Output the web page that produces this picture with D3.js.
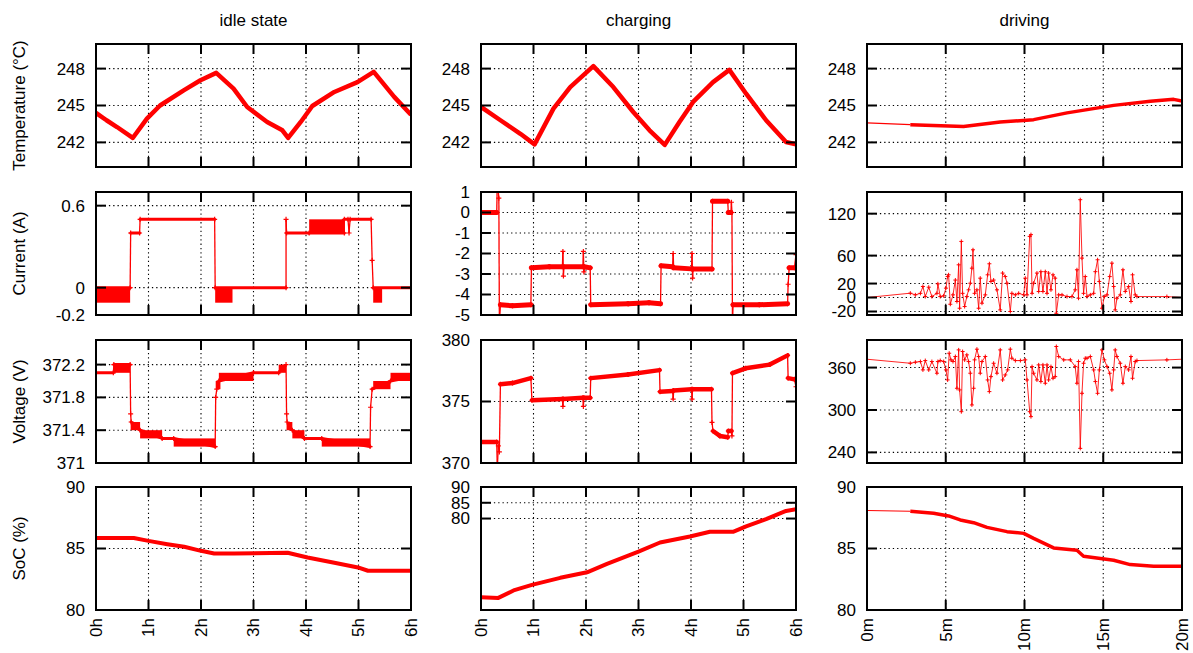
<!DOCTYPE html>
<html>
<head>
<meta charset="utf-8">
<script src="https://cdn.jsdelivr.net/npm/d3@7"></script>
<style>
  body { margin: 0; background: #fff; }
  text { font-family: "Liberation Sans", Arial, sans-serif; fill: #000; }
</style>
</head>
<body>
<svg id="chart" width="1193" height="653"></svg>
<script>
// titles and tick labels
const columnTitles = ["idle state", "charging", "driving"];
const rowTitles = ["Temperature (°C)", "Current (A)", "Voltage (V)", "SoC (%)"];
const hourTicks = [0, 1, 2, 3, 4, 5, 6];
const minuteTicks = [0, 5, 10, 15, 20];
const tempTicks = [242, 245, 248];
const idleCurrentTicks = [-0.2, 0, 0.6];
const chargeCurrentTicks = [-5, -4, -3, -2, -1, 0, 1];
const driveCurrentTicks = [-20, 0, 20, 60, 120];
const idleVoltageTicks = [371, 371.4, 371.8, 372.2];
const chargeVoltageTicks = [370, 375, 380];
const driveVoltageTicks = [240, 300, 360];
const socTicks = [80, 85, 90];

// series: [time, value]  (hours for idle/charging, minutes for driving)
const idleTemp = [[0,244.4],[0.2,243.8],[0.4,243.25],[0.7,242.36],[0.97,243.93],[1.22,245.0],[1.67,246.23],[1.99,247.05],[2.29,247.65],[2.62,246.37],[2.88,244.88],[3.26,243.66],[3.55,242.98],[3.66,242.36],[3.9,243.66],[4.12,244.96],[4.54,246.1],[4.98,246.9],[5.29,247.73],[5.68,245.7],[6,244.25]];
const chargeTemp = [[0,244.88],[0.37,243.8],[0.75,242.7],[1.02,241.84],[1.38,244.75],[1.7,246.5],[2.14,248.2],[2.52,246.5],[2.9,244.47],[3.21,242.98],[3.5,241.8],[3.78,243.66],[4.04,245.29],[4.42,246.9],[4.73,247.9],[5.05,245.96],[5.43,243.8],[5.81,242.03],[6,241.84]];
const driveTemp = [[0,243.58],[2.75,243.44],[5.18,243.33],[6.13,243.3],[8.46,243.66],[10.58,243.85],[12.7,244.4],[15.66,245.01],[17.99,245.34],[19.47,245.5],[20,245.37]];

const idleCurrent = [[0,0],[0.65,0],[0.66,0.4],[0.83,0.4],[0.84,0.5],[2.26,0.5],[2.27,0],[3.62,0],[3.62,0.5],[3.63,0.4],[4.06,0.4],[4.73,0.4],[4.73,0.5],[4.8,0.5],[4.82,0.4],[4.84,0.5],[5.24,0.5],[5.26,0.2],[5.28,0],[6,0]];
// oscillating stretches: [t0, t1, low, high]
const idleCurrentBands = [[0,0.65,-0.11,0],[2.27,2.6,-0.11,0],[4.06,4.73,0.4,0.5],[5.28,5.45,-0.11,0]];
const chargeCurrent = [[0,0],[0.3,0],[0.31,1.6],[0.34,0.7],[0.35,-5.5],[0.37,-4.5],[0.6,-4.55],[0.95,-4.5],[0.96,-2.7],[1.3,-2.65],[1.55,-2.65],[1.56,-1.9],[1.57,-3.1],[1.58,-2.65],[1.94,-2.65],[1.95,-1.9],[1.96,-2.9],[1.97,-2.65],[2.08,-2.7],[2.09,-4.5],[2.8,-4.45],[3.2,-4.4],[3.42,-4.45],[3.43,-2.6],[3.65,-2.65],[3.66,-2.0],[3.67,-2.7],[4.01,-2.75],[4.02,-2.0],[4.03,-3.2],[4.04,-2.75],[4.4,-2.75],[4.41,0.55],[4.7,0.55],[4.71,0],[4.76,0],[4.77,0.5],[4.78,0],[4.79,-5.5],[4.8,-4.5],[5.3,-4.5],[5.84,-4.45],[5.85,-3.5],[5.87,-2.7],[5.97,-2.7],[6,-2.05]];
const driveCurrent = [[0,0],[2.75,6.2],[3.07,3.8],[3.39,6],[3.55,15.8],[3.7,1.4],[3.92,14.8],[4.12,1.4],[4.44,6],[4.5,19.6],[4.65,1.4],[4.87,2.4],[5.01,13.4],[5.12,30],[5.18,32.5],[5.29,-9.6],[5.46,3.8],[5.61,25],[5.71,-5.7],[5.82,46.8],[5.88,-15.3],[5.99,80.3],[6.07,6],[6.2,-12.9],[6.34,1.4],[6.45,11],[6.56,20.5],[6.66,42],[6.73,68.3],[6.83,6],[6.98,11],[7.09,-15.3],[7.19,27.7],[7.3,-8.1],[7.51,3.8],[7.66,32.5],[7.77,48.3],[7.87,23],[8.04,25],[8.25,11],[8.46,-17.7],[8.61,35],[8.78,30],[8.89,20.5],[9.1,-20],[9.2,6],[9.42,3.8],[9.63,6],[9.95,3.8],[10.05,27.7],[10.16,3.8],[10.33,87.5],[10.41,90],[10.48,6],[10.58,20.5],[10.79,35],[10.9,8.6],[11.04,37],[11.17,8.6],[11.32,37],[11.43,6],[11.53,35],[11.68,11],[11.81,32.5],[11.95,27.7],[12.02,-22.5],[12.17,3.8],[12.38,3.8],[12.7,1.4],[13.01,1.4],[13.22,11],[13.33,39.7],[13.43,-1],[13.54,140],[13.65,56.4],[13.75,6],[13.86,30],[13.97,1.4],[14.18,3.8],[14.39,6],[14.5,37],[14.64,54],[14.75,23],[14.92,-15.3],[15.07,1.4],[15.24,3.8],[15.41,30],[15.55,49.2],[15.66,15.8],[15.76,-17.7],[15.87,-1],[16.08,3.8],[16.25,39.7],[16.4,8.6],[16.61,15.8],[16.76,-5.7],[16.86,32.5],[17.03,3.8],[17.14,1.4],[19.04,1.4],[20,0]];

const idleVoltage = [[0,372.1],[0.33,372.1],[0.34,372.2],[0.65,372.2],[0.66,371.6],[0.67,371.5],[0.84,371.4],[1.26,371.3],[1.48,371.3],[2.27,371.2],[2.28,371.8],[2.3,371.9],[2.34,372.0],[3.0,372.1],[3.48,372.1],[3.62,372.2],[3.63,371.6],[3.64,371.5],[3.74,371.4],[3.97,371.3],[4.3,371.3],[5.22,371.2],[5.23,371.68],[5.26,371.9],[5.61,372.0],[6,372.05]];
const idleVoltageBands = [[0.34,0.65,372.1,372.2],[0.66,0.84,371.4,371.5],[0.84,1.26,371.3,371.4],[1.48,2.27,371.2,371.3],[2.28,2.37,371.9,372.0],[2.34,3.0,372.0,372.1],[3.48,3.62,372.1,372.2],[3.63,3.74,371.4,371.5],[3.74,3.97,371.3,371.4],[4.3,5.22,371.2,371.3],[5.28,5.61,371.9,372.0],[5.61,6,372.0,372.1]];
const chargeVoltage = [[0,371.7],[0.3,371.7],[0.31,369.5],[0.33,371.4],[0.35,370.9],[0.37,376.4],[0.6,376.5],[0.95,376.9],[0.97,375.1],[1.55,375.2],[1.56,374.6],[1.57,375.2],[1.94,375.3],[1.95,374.6],[1.96,375.3],[2.08,375.3],[2.09,376.9],[2.8,377.2],[3.4,377.55],[3.41,375.8],[3.65,375.85],[3.66,375.2],[3.67,375.9],[4.01,376.0],[4.02,375.2],[4.03,376.0],[4.39,376.0],[4.4,373.3],[4.42,372.6],[4.55,372.2],[4.7,372.1],[4.71,372.6],[4.77,372.6],[4.78,372.2],[4.79,377.3],[5.04,377.7],[5.5,378.0],[5.84,378.75],[5.85,376.9],[5.97,376.8],[6,376.2]];
const driveVoltage = [[0,371.8],[2.75,366.1],[3.07,367.6],[3.39,368.5],[3.55,356.7],[3.7,369.9],[3.92,356.7],[4.12,368.5],[4.44,352],[4.5,368.5],[4.65,369.9],[4.87,368.5],[5.01,356.7],[5.12,342.5],[5.22,380.3],[5.33,370.9],[5.46,368.5],[5.61,375.6],[5.71,330.7],[5.82,385],[5.88,328.4],[5.99,297.6],[6.07,382.7],[6.2,370.9],[6.34,378],[6.45,368.5],[6.56,352],[6.66,307.1],[6.77,330.7],[6.83,370.9],[6.98,386],[7.09,375.6],[7.19,352],[7.3,368.5],[7.51,375.6],[7.66,342.5],[7.77,326],[7.87,347.2],[8.04,366.1],[8.25,352],[8.46,385],[8.61,342.5],[8.78,349.6],[8.93,356.7],[9.1,386],[9.2,373.2],[9.42,369.9],[9.74,369.9],[10.05,370.9],[10.16,342.5],[10.33,297.6],[10.41,290.6],[10.48,361.4],[10.58,352],[10.79,342.5],[10.9,363.8],[11.04,340.2],[11.17,363.8],[11.32,337.8],[11.43,363.8],[11.53,342.5],[11.68,361.4],[11.81,344.9],[11.95,347.2],[12.02,389.8],[12.17,375.6],[12.49,370.9],[12.91,370.9],[13.22,361.4],[13.33,337.8],[13.43,368.5],[13.54,245.7],[13.65,323.6],[13.75,366.1],[13.86,373.2],[13.97,373.2],[14.18,375.6],[14.39,356.7],[14.5,340.2],[14.64,323.6],[14.75,356.7],[14.92,385],[15.07,370.9],[15.24,361.4],[15.41,352],[15.55,328.4],[15.66,356.7],[15.76,385],[15.87,375.6],[16.08,366.1],[16.25,337.8],[16.4,361.4],[16.61,356.7],[16.76,375.6],[16.86,344.9],[17.03,368.5],[17.14,369.9],[19.04,370.9],[20,371.8]];

const idleSoc = [[0,85.86],[0.72,85.86],[1.0,85.62],[1.36,85.35],[1.68,85.14],[2.0,84.81],[2.25,84.6],[2.63,84.6],[3.65,84.65],[4.03,84.27],[4.54,83.84],[4.99,83.46],[5.18,83.19],[6,83.19]];
const chargeSoc = [[0,55.05],[0.33,54.84],[0.62,57.2],[0.97,58.95],[1.51,61.2],[2.02,62.95],[2.4,65.6],[3.0,69.5],[3.41,72.4],[3.98,74.3],[4.36,75.8],[4.8,75.8],[5.05,77.5],[5.43,79.8],[5.81,82.4],[6,82.95]];
const driveSoc = [[0,88.09],[2.75,88.03],[4.23,87.87],[5.18,87.65],[5.92,87.32],[6.77,87.1],[7.62,86.72],[8.89,86.37],[9.95,86.23],[10.58,85.82],[11.85,85.05],[13.33,84.86],[13.75,84.37],[15.66,84.04],[16.71,83.69],[18.2,83.55],[20,83.55]];

const red = "#ff0000";

// panels, row by row
const panels = [
  { data: idleTemp, ticks: tempTicks, domain: [240, 250], style: "thick", w: 4.5 },
  { data: chargeTemp, ticks: tempTicks, domain: [240, 250], style: "thick", w: 4.5 },
  { data: driveTemp, ticks: tempTicks, domain: [240, 250], style: "thick", w: 3.5, lead: true },
  { data: idleCurrent, bands: idleCurrentBands, ticks: idleCurrentTicks, domain: [-0.2, 0.7], style: "step", w: 3 },
  { data: chargeCurrent, ticks: chargeCurrentTicks, domain: [-5, 1], style: "step", w: 5 },
  { data: driveCurrent, ticks: driveCurrentTicks, domain: [-25, 151], style: "spiky" },
  { data: idleVoltage, bands: idleVoltageBands, ticks: idleVoltageTicks, domain: [371, 372.5], style: "step", w: 3 },
  { data: chargeVoltage, ticks: chargeVoltageTicks, domain: [370, 380], style: "step", w: 4.5 },
  { data: driveVoltage, ticks: driveVoltageTicks, domain: [225, 399], style: "spiky" },
  { data: idleSoc, ticks: socTicks, domain: [80, 90], style: "thick", w: 4 },
  { data: chargeSoc, ticks: socTicks, domain: [51, 90], style: "thick", w: 4 },
  { data: driveSoc, ticks: socTicks, domain: [80, 90], style: "thick", w: 3.5, lead: true }
];

const svg = d3.select("#chart");
const colX = [96, 481, 867];
const rowY = [44, 192, 340, 487];
const plotW = 315, plotH = 123, tickLen = 10;

// column titles
columnTitles.forEach((t, c) => {
  svg.append("text").attr("x", colX[c] + plotW / 2).attr("y", 26)
    .attr("text-anchor", "middle").attr("font-size", 17).text(t);
});

// row titles
rowTitles.forEach((t, r) => {
  svg.append("text").attr("transform", `translate(25,${rowY[r] + plotH / 2}) rotate(-90)`)
    .attr("text-anchor", "middle").attr("font-size", 17).text(t);
});

panels.forEach((p, i) => {
  const col = i % 3, row = Math.floor(i / 3);
  const g = svg.append("g").attr("transform", `translate(${colX[col]},${rowY[row]})`);
  const xTicks = col === 2 ? minuteTicks : hourTicks;
  const x = d3.scaleLinear().domain(col === 2 ? [0, 20] : [0, 6]).range([0, plotW]);
  const y = d3.scaleLinear().domain(p.domain).range([plotH, 0]);

  g.append("clipPath").attr("id", "clip" + i)
    .append("rect").attr("width", plotW).attr("height", plotH);

  // dotted grid
  const grid = g.append("g").attr("stroke", "#000").attr("stroke-width", 1.1).attr("stroke-dasharray", "1.3,3");
  xTicks.filter(t => t > x.domain()[0] && t < x.domain()[1]).forEach(t => {
    grid.append("line").attr("x1", x(t)).attr("x2", x(t)).attr("y1", 0).attr("y2", plotH);
  });
  p.ticks.filter(v => v > p.domain[0] && v < p.domain[1]).forEach(v => {
    grid.append("line").attr("x1", 0).attr("x2", plotW).attr("y1", y(v)).attr("y2", y(v));
  });

  // data
  const plot = g.append("g").attr("clip-path", `url(#clip${i})`);
  (p.bands || []).forEach(b => {
    plot.append("rect").attr("x", x(b[0])).attr("width", x(b[1]) - x(b[0]))
      .attr("y", y(b[3])).attr("height", y(b[2]) - y(b[3])).attr("fill", red);
  });
  const line = d3.line().x(d => x(d[0])).y(d => y(d[1]));
  if (p.style === "thick") {
    const body = p.lead ? p.data.slice(1) : p.data;
    if (p.lead) {
      plot.append("path").attr("d", line(p.data.slice(0, 2))).attr("fill", "none")
        .attr("stroke", red).attr("stroke-width", 1.2);
    }
    plot.append("path").attr("d", line(body)).attr("fill", "none")
      .attr("stroke", red).attr("stroke-width", p.w).attr("stroke-linejoin", "round");
  } else if (p.style === "step") {
    for (let k = 1; k < p.data.length; k++) {
      const a = p.data[k - 1], b = p.data[k];
      const dx = Math.abs(x(b[0]) - x(a[0])), dy = Math.abs(y(b[1]) - y(a[1]));
      plot.append("line").attr("x1", x(a[0])).attr("y1", y(a[1]))
        .attr("x2", x(b[0])).attr("y2", y(b[1])).attr("stroke", red)
        .attr("stroke-width", dx >= dy ? p.w : 1.3).attr("stroke-linecap", dx >= dy ? "round" : "butt");
    }
    plot.selectAll(".pt").data(p.data).enter().append("path")
      .attr("d", d => `M${x(d[0]) - 2.5},${y(d[1])}h5M${x(d[0])},${y(d[1]) - 2.5}v5`)
      .attr("stroke", red).attr("stroke-width", 1.2);
  } else {
    plot.append("path").attr("d", line(p.data)).attr("fill", "none")
      .attr("stroke", red).attr("stroke-width", 1).attr("stroke-opacity", 0.85);
    plot.selectAll(".pt").data(p.data.slice(1, -1)).enter().append("path")
      .attr("d", d => `M${x(d[0]) - 2},${y(d[1])}h4M${x(d[0])},${y(d[1]) - 2}v4`)
      .attr("stroke", red).attr("stroke-width", 1);
  }

  // ticks on all four sides
  const tk = g.append("g").attr("stroke", "#000").attr("stroke-width", 2);
  xTicks.forEach(t => {
    tk.append("line").attr("x1", x(t)).attr("x2", x(t)).attr("y1", 0).attr("y2", tickLen);
    tk.append("line").attr("x1", x(t)).attr("x2", x(t)).attr("y1", plotH).attr("y2", plotH - tickLen);
  });
  p.ticks.forEach(v => {
    tk.append("line").attr("x1", 0).attr("x2", tickLen).attr("y1", y(v)).attr("y2", y(v));
    tk.append("line").attr("x1", plotW).attr("x2", plotW - tickLen).attr("y1", y(v)).attr("y2", y(v));
  });

  // border
  g.append("rect").attr("width", plotW).attr("height", plotH)
    .attr("fill", "none").attr("stroke", "#000").attr("stroke-width", 2);

  // y tick labels
  p.ticks.forEach(v => {
    g.append("text").attr("x", -11).attr("y", y(v)).attr("dy", "0.35em")
      .attr("text-anchor", "end").attr("font-size", 17).text(String(v));
  });

  // x tick labels on the bottom row
  if (row === 3) {
    xTicks.forEach(t => {
      g.append("text").attr("transform", `translate(${x(t)},${plotH + 8}) rotate(-90)`)
        .attr("dy", "0.35em").attr("text-anchor", "end").attr("font-size", 17)
        .text(t + (col === 2 ? "m" : "h"));
    });
  }
});
</script>
</body>
</html>
